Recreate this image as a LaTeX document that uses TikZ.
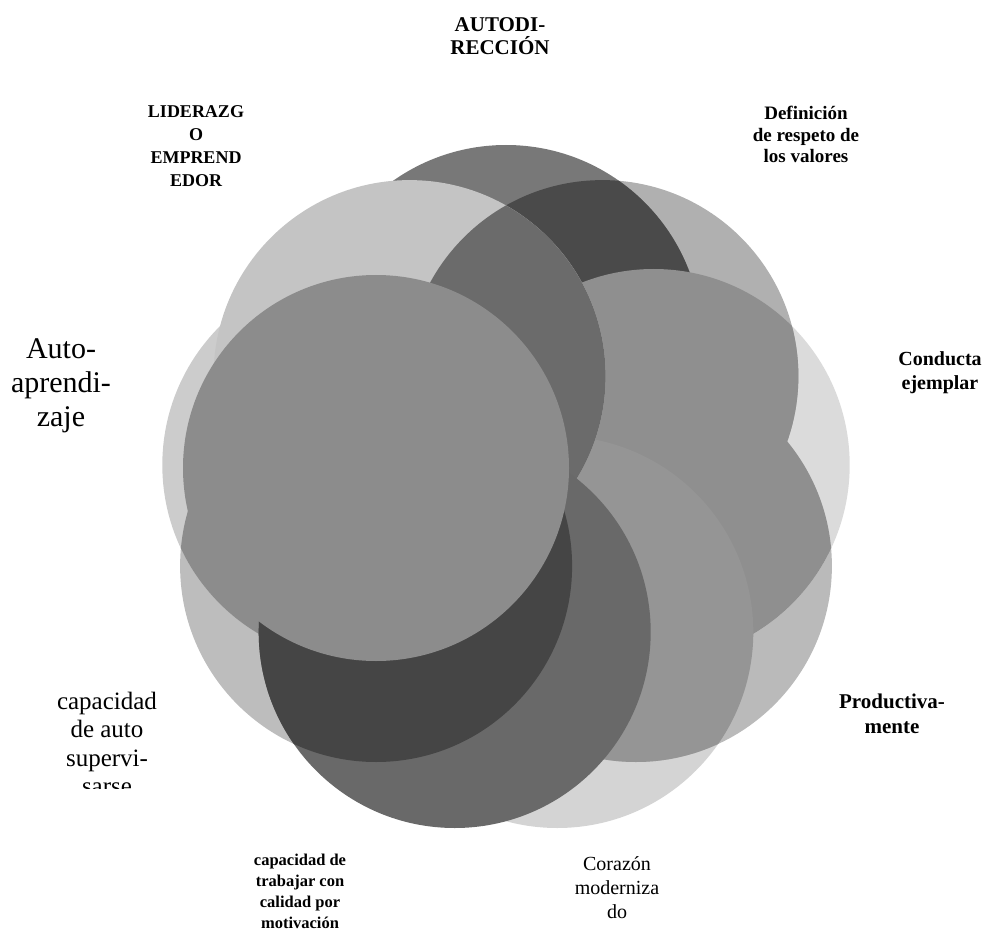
\documentclass[tikz,border=0pt]{standalone}
\usepackage{fontspec}
\setmainfont{Liberation Serif}
\definecolor{sglA}{gray}{0.86}
\definecolor{sglB}{gray}{0.83}
\definecolor{sglC}{gray}{0.73}
\definecolor{sglD}{gray}{0.74}
\definecolor{sglE}{gray}{0.80}
\definecolor{sglF}{gray}{0.77}
\definecolor{sglG}{gray}{0.69}
\definecolor{topc}{gray}{0.47}
\definecolor{darkc}{gray}{0.29}
\definecolor{medc}{gray}{0.56}
\definecolor{medl}{gray}{0.585}
\definecolor{medd}{gray}{0.42}
\definecolor{botc}{gray}{0.41}
\definecolor{botd}{gray}{0.27}
\definecolor{diskc}{gray}{0.55}
\tikzset{
  lbl/.style={align=center, inner sep=0pt, anchor=base, text=black},
}
\begin{document}
\begin{tikzpicture}[x=1pt,y=-1pt]
\useasboundingbox (0,0) rectangle (987,949);
\def\R{196pt}
\coordinate (c0) at (506,341);
\coordinate (c1) at (602.4,376.1);
\coordinate (c2) at (653.7,465);
\coordinate (c3) at (635.9,566);
\coordinate (c4) at (557.3,632);
\coordinate (c5) at (454.7,632);
\coordinate (c6) at (376.1,566);
\coordinate (c7) at (358.3,465);
\coordinate (c8) at (409.6,376.1);
\coordinate (c7d) at (376,468);
% light single circles
\fill[sglD] (c6) circle[radius=\R];
\fill[sglB] (c4) circle[radius=\R];
\fill[sglC] (c3) circle[radius=\R];
\fill[sglA] (c2) circle[radius=\R];
\fill[sglG] (c1) circle[radius=\R];
\fill[sglE] (c7) circle[radius=\R];
% top circle
\fill[topc] (c0) circle[radius=\R];
\begin{scope}
  \clip (c0) circle[radius=\R];
  \fill[darkc] (c1) circle[radius=\R];
\end{scope}
\begin{scope}
  \clip (c2) circle[radius=\R];
  \fill[medc] (c1) circle[radius=\R];
  \fill[medc] (c3) circle[radius=\R];
\end{scope}
\begin{scope}
  \clip (c3) circle[radius=\R];
  \fill[medl] (c4) circle[radius=\R];
\end{scope}
\fill[sglF] (c8) circle[radius=\R];
\begin{scope}
  \clip (c8) circle[radius=\R];
  \fill[medd] (c1) circle[radius=\R];
\end{scope}
\begin{scope}
  \clip (c6) circle[radius=\R];
  \fill[diskc] (c7) circle[radius=\R];
\end{scope}
% bottom circle
\fill[botc] (c5) circle[radius=\R];
\begin{scope}
  \clip (c5) circle[radius=\R];
  \fill[botd] (c6) circle[radius=\R];
\end{scope}
% upper-left disk on top
\fill[diskc] (c7d) circle[radius=193pt];
% labels (anchor = baseline of the last line)
\node[lbl, font=\fontsize{21}{23}\selectfont\bfseries] (autodir) at (500,55) {AUTODI-\\RECCIÓN};
\node[lbl, font=\fontsize{18}{23}\selectfont\bfseries] (lider) at (196,187) {LIDERAZG\\O\\EMPREND\\EDOR};
\node[lbl, font=\fontsize{19}{21.5}\selectfont\bfseries] (defin) at (806,163) {Definición\\de respeto de\\los valores};
\node[lbl, font=\fontsize{20}{24}\selectfont\bfseries] (conduc) at (940,389) {Conducta\\ejemplar};
\node[lbl, font=\fontsize{30}{34}\selectfont] (autoap) at (61,426) {Auto-\\aprendi-\\zaje};
\begin{scope}
  \clip (0,680) rectangle (220,788);
  \node[lbl, font=\fontsize{25}{28.5}\selectfont] (supervi) at (107,794.5) {capacidad\\de auto\\supervi-\\sarse};
\end{scope}
\node[lbl, font=\fontsize{21}{25}\selectfont\bfseries] (produc) at (892,733) {Productiva-\\mente};
\node[lbl, font=\fontsize{16.5}{21}\selectfont\bfseries] (trabajar) at (300,928) {capacidad de\\trabajar con\\calidad por\\motivación};
\node[lbl, font=\fontsize{20}{24}\selectfont] (corazon) at (617,918) {Corazón\\moderniza\\do};
\end{tikzpicture}
\end{document}
